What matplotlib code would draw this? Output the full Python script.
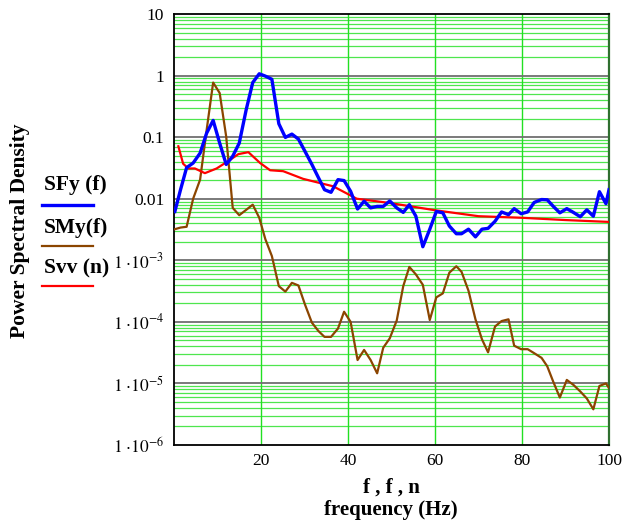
import matplotlib
matplotlib.use("Agg")
import matplotlib.pyplot as plt
from matplotlib.lines import Line2D
from matplotlib.ticker import FixedLocator, NullFormatter
import numpy as np

plt.rcParams['font.family'] = ['Liberation Serif', 'DejaVu Serif']
plt.rcParams['mathtext.fontset'] = 'stix'

# frequency grid shared by SFy and SMy
f = [0.2, 1.5, 2.9, 4.4, 6.0, 7.5, 9.0, 10.5, 12.0, 13.5, 15.0, 16.6, 18.1, 19.6,
     21.0, 22.5, 24.1, 25.6, 27.1, 28.6, 30.1, 31.7, 33.2, 34.6, 36.1, 37.7, 39.1,
     40.6, 42.2, 43.7, 45.2, 46.7, 48.1, 49.6, 51.2, 52.7, 54.1, 55.6, 57.2, 58.8,
     60.3, 61.8, 63.3, 64.9, 66.1, 67.7, 69.3, 70.8, 72.2, 73.8, 75.3, 76.9, 78.2,
     79.8, 81.3, 82.8, 84.5, 85.8, 87.2, 88.7, 90.3, 91.8, 93.4, 94.9, 96.4, 97.8,
     99.3, 100.0]

SFy = [0.0062, 0.014, 0.032, 0.038, 0.055, 0.116, 0.187, 0.080, 0.036, 0.049, 0.080,
       0.28, 0.77, 1.07, 0.98, 0.87, 0.165, 0.099, 0.112, 0.093, 0.059, 0.036, 0.022,
       0.014, 0.0127, 0.0204, 0.0197, 0.0132, 0.0068, 0.0091, 0.0071, 0.0075, 0.0075,
       0.0092, 0.0071, 0.0060, 0.0080, 0.0052, 0.00166, 0.0032, 0.0062, 0.0059, 0.0036,
       0.0027, 0.0027, 0.0032, 0.0024, 0.0032, 0.0033, 0.0043, 0.0061, 0.0055, 0.0069,
       0.0057, 0.0061, 0.0087, 0.0097, 0.0096, 0.0075, 0.0059, 0.0069, 0.0060, 0.0051,
       0.0066, 0.0052, 0.013, 0.0083, 0.014]

SMy = [0.0032, 0.0034, 0.0035, 0.010, 0.0204, 0.13, 0.77, 0.52, 0.102, 0.0071, 0.0054,
       0.0066, 0.0080, 0.0049, 0.0022, 0.00117, 3.8e-4, 3.1e-4, 4.3e-4, 3.9e-4, 1.92e-4,
       9.7e-5, 7.1e-5, 5.7e-5, 5.7e-5, 7.8e-5, 1.46e-4, 1.0e-4, 2.4e-5, 3.5e-5, 2.4e-5,
       1.46e-5, 3.8e-5, 5.4e-5, 1.05e-4, 3.8e-4, 7.8e-4, 5.9e-4, 4.0e-4, 1.07e-4, 2.5e-4,
       2.9e-4, 6.3e-4, 8.0e-4, 6.5e-4, 3.2e-4, 1.1e-4, 5.2e-5, 3.2e-5, 8.4e-5, 1.03e-4,
       1.1e-4, 4.1e-5, 3.6e-5, 3.6e-5, 3.1e-5, 2.6e-5, 1.9e-5, 1.06e-5, 5.9e-6, 1.14e-5,
       9.5e-6, 7.4e-6, 5.7e-6, 3.8e-6, 9.1e-6, 1.0e-5, 8.4e-6]

n = [1.0, 2.1, 3.3, 4.8, 7.1, 9.8, 12.5, 14.8, 17.1, 19.8, 22.1, 25.1, 29.7, 36.6,
     42.0, 49.7, 60.0, 70.0, 80.0, 90.0, 100.0]
Svv = [0.071, 0.037, 0.031, 0.031, 0.026, 0.031, 0.041, 0.053, 0.057, 0.038, 0.029,
       0.028, 0.021, 0.0159, 0.0100, 0.0085, 0.0065, 0.0052, 0.0049, 0.0045, 0.0042]

xticks = [20, 40, 60, 80, 100]
yticks = [10, 1, 0.1, 0.01, 1e-3, 1e-4, 1e-5, 1e-6]
ylabels = ['10', '1', '0.1', '0.01', r'$1\ {\cdot}10^{-3}$', r'$1\ {\cdot}10^{-4}$',
           r'$1\ {\cdot}10^{-5}$', r'$1\ {\cdot}10^{-6}$']

fig = plt.figure(figsize=(6.25, 5.23), dpi=100)
ax = fig.add_axes([174/625, 1-445/523, 435/625, 431/523])
ax.set_yscale('log')
ax.set_xlim(0, 100)
ax.set_ylim(1e-6, 10)

# grid
minor = [m * 10.0**e for e in range(-6, 1) for m in range(2, 10)]
for v in minor:
    ax.axhline(v, color='#22e022', lw=0.9, alpha=0.8, zorder=1)
for v in [1, 0.1, 0.01, 1e-3, 1e-4, 1e-5]:
    ax.axhline(v, color='#707070', lw=1.3, zorder=1.5)
for v in [20, 40, 60, 80]:
    ax.axvline(v, color='#22e022', lw=1.0, zorder=1)

ax.plot(f, SMy, color='#8B4500', lw=1.6, zorder=3)
ax.plot(n, Svv, color='#ff0000', lw=1.6, zorder=3)
ax.plot(f, SFy, color='#0000ff', lw=2.4, zorder=4)

ax.yaxis.set_major_locator(FixedLocator(yticks))
ax.set_yticklabels(ylabels)
ax.yaxis.set_minor_formatter(NullFormatter())
ax.yaxis.set_minor_locator(FixedLocator([]))
ax.set_xticks(xticks)
ax.set_xticklabels([str(t) for t in xticks])
ax.tick_params(axis='both', length=0, labelsize=12.5, pad=6)
ax.tick_params(axis='y', pad=7)

for s in ['left', 'bottom', 'top']:
    ax.spines[s].set_color('black')
    ax.spines[s].set_linewidth(1.3)
ax.spines['right'].set_color('#2f6f2f')
ax.spines['right'].set_linewidth(1.6)

fig.text(20/625, 1-231/523, 'Power Spectral Density', rotation=90, ha='center',
         va='center', fontsize=15.5, fontweight='bold')
fig.text(391/625, 1-488/523, 'f , f , n', ha='center', va='center', fontsize=15,
         fontweight='bold')
fig.text(391/625, 1-510/523, 'frequency (Hz)', ha='center', va='center', fontsize=15,
         fontweight='bold')

legend = [('SFy (f)', '#0000ff', 185, 205, 2.4),
          ('SMy(f)', '#8B4500', 228, 246, 1.6),
          ('Svv (n)', '#ff0000', 268, 286, 1.6)]
for label, col, ty, ly, lw in legend:
    fig.text(44/625, 1-ty/523, label, ha='left', va='center', fontsize=15.5,
             fontweight='bold')
    fig.add_artist(Line2D([42/625, 93/625], [1-ly/523, 1-ly/523], color=col, lw=lw,
                          transform=fig.transFigure))

fig.savefig('out.png', dpi=100)
